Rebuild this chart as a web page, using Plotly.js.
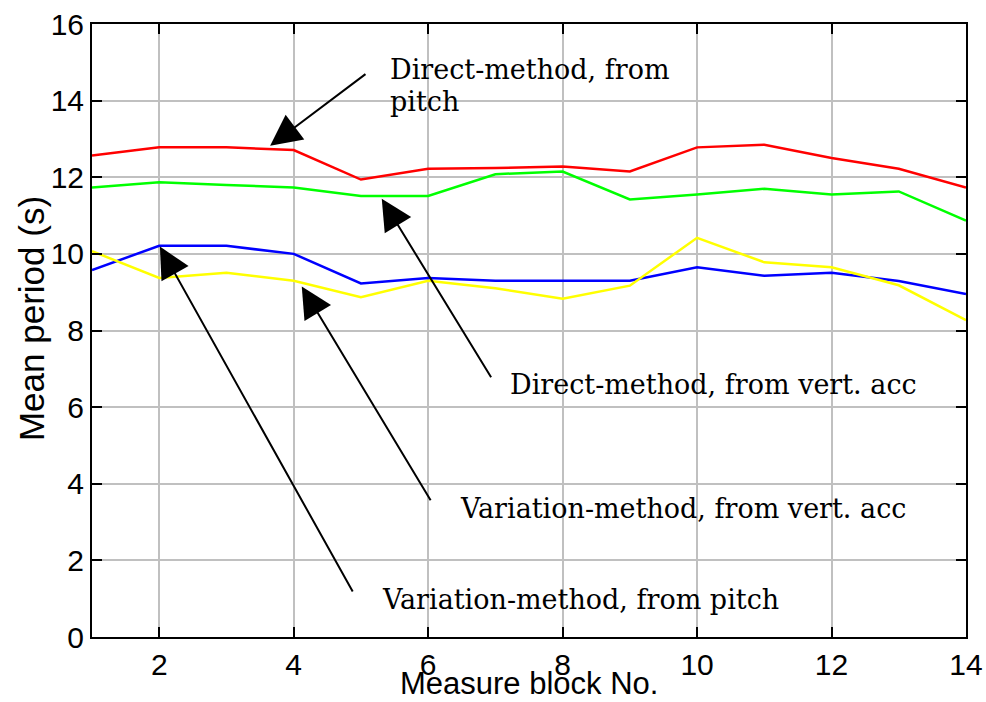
<!DOCTYPE html>
<html>
<head>
<meta charset="utf-8">
<script src="https://cdn.plot.ly/plotly-3.0.1.min.js"></script>
<style>html,body{margin:0;padding:0;background:#fff;}#chart{width:986px;height:702px;}</style>
</head>
<body>
<div id="chart"></div>
<script>
const blocks = [1,2,3,4,5,6,7,8,9,10,11,12,13,14];
const directPitch = [12.57,12.78,12.78,12.71,11.94,12.22,12.24,12.28,12.15,12.78,12.85,12.50,12.22,11.73];
const directVertAcc = [11.73,11.87,11.80,11.73,11.51,11.51,12.08,12.15,11.42,11.55,11.70,11.55,11.63,10.87];
const variationPitch = [9.58,10.21,10.21,10.00,9.23,9.37,9.30,9.30,9.30,9.65,9.43,9.51,9.29,8.95];
const variationVertAcc = [10.07,9.37,9.51,9.30,8.87,9.30,9.10,8.83,9.17,10.42,9.78,9.65,9.18,8.27];
const xTicks = [2,4,6,8,10,12,14];
const yTicks = [0,2,4,6,8,10,12,14,16];

const labelTexts = [
  {text:'Direct-method, from', x:5.40, y:14.80},
  {text:'pitch', x:5.40, y:13.99},
  {text:'Direct-method, from vert. acc', x:7.19, y:6.60},
  {text:'Variation-method, from vert. acc', x:6.44, y:3.36},
  {text:'Variation-method, from pitch', x:5.28, y:0.99}
];
const arrows = [
  {tip:[3.65,12.82], tail:[5.09,14.72]},
  {tip:[5.31,11.44], tail:[6.95,6.74]},
  {tip:[4.12,9.15], tail:[6.05,3.53]},
  {tip:[2.01,10.19], tail:[4.89,1.15]}
];

const mk = (y, c) => ({x: blocks, y: y, type:'scatter', mode:'lines', line:{color:c, width:2.5}, hoverinfo:'skip'});
const traces = [
  mk(directPitch,'#ff0000'),
  mk(directVertAcc,'#00ff00'),
  mk(variationPitch,'#0000ff'),
  mk(variationVertAcc,'#ffff00')
];

const annotations = [];
labelTexts.forEach(l => {
  annotations.push({x:l.x, y:l.y, xref:'x', yref:'y', text:l.text, showarrow:false,
    xanchor:'left', yanchor:'middle', align:'left',
    font:{family:'DejaVu Serif', size:27, color:'#000'}});
});
arrows.forEach(a => {
  annotations.push({x:a.tip[0], y:a.tip[1], xref:'x', yref:'y', ax:a.tail[0], ay:a.tail[1],
    axref:'x', ayref:'y', text:'', showarrow:true, arrowhead:2, arrowsize:3.1, arrowwidth:2,
    arrowcolor:'#000', standoff:0});
});
annotations.push({xref:'paper', yref:'paper', x:-0.07, y:0.52, text:'Mean period (s)',
  textangle:-90, showarrow:false, xanchor:'center', yanchor:'middle',
  font:{family:'Liberation Sans, Arial', size:35, color:'#000'}});
annotations.push({xref:'paper', yref:'paper', x:0.5, y:-0.108, text:'Measure block No.',
  showarrow:false, xanchor:'center', yanchor:'bottom',
  font:{family:'Liberation Sans, Arial', size:31, color:'#000'}});

const axisCommon = {
  showline:true, linecolor:'#000', linewidth:2, mirror:'ticks',
  ticks:'inside', ticklen:10, tickwidth:2, tickcolor:'#000',
  showgrid:true, gridcolor:'#c0c0c0', gridwidth:2, zeroline:false,
  tickfont:{family:'Liberation Sans, Arial', size:30, color:'#000'}
};

const layout = {
  width:986, height:702,
  margin:{l:92, r:20, t:24, b:65},
  paper_bgcolor:'#fff', plot_bgcolor:'#fff',
  showlegend:false,
  xaxis: Object.assign({}, axisCommon, {range:[1,14], tickvals:xTicks, ticktext:xTicks.map(String)}),
  yaxis: Object.assign({}, axisCommon, {range:[0,16], tickvals:yTicks, ticktext:yTicks.map(String)}),
  annotations: annotations
};

Plotly.newPlot('chart', traces, layout, {staticPlot:true, displayModeBar:false});
</script>
</body>
</html>
